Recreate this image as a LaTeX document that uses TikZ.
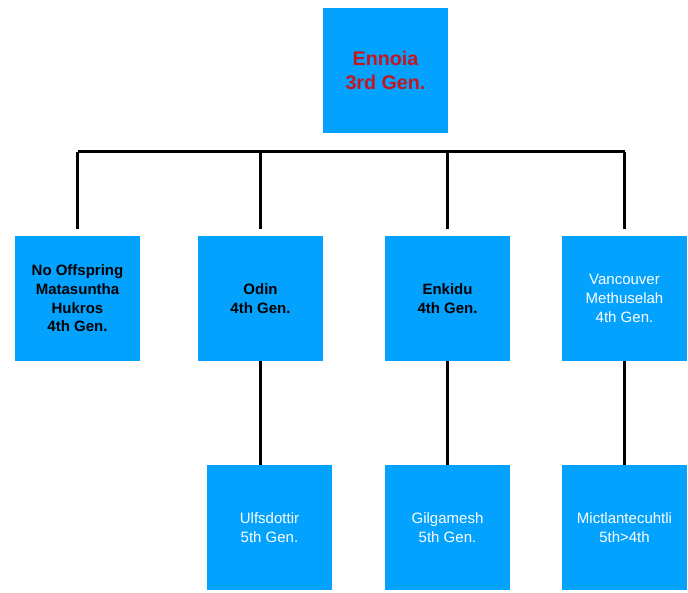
\documentclass[tikz,border=0pt]{standalone}
\usepackage{fontspec}
\setmainfont{Liberation Sans}
\usepackage{tikz}
\usepackage{xcolor}
\definecolor{genblue}{RGB}{4,162,255}
\definecolor{genred}{RGB}{196,22,28}
\tikzstyle{genbox} = [fill=genblue,rectangle,minimum width=125pt,
  minimum height=125pt,inner sep=0pt,align=center]
\tikzstyle{toptext} = [text=genred,font=\fontsize{19.7}{24}\selectfont\bfseries]
\tikzstyle{midtext} = [text=black,font=\fontsize{15}{18.7}\selectfont\bfseries]
\tikzstyle{lowtext} = [text=white,font=\fontsize{15}{18.7}\selectfont]
\tikzstyle{link} = [draw=black,line width=3pt]

\begin{document}
\begin{tikzpicture}[x=1pt,y=-1pt]
    \useasboundingbox (0,0) rectangle (688,593);
    % third generation
    \node [genbox,toptext] (ennoia) at (385.5,70.5) {Ennoia\\3rd Gen.};
    % fourth generation
    \node [genbox,midtext] (nooff) at (77.5,298.5) {%
      No Offspring\\Matasuntha\\Hukros\\4th Gen.};
    \node [genbox,midtext] (odin) at (260.5,298.5) {Odin\\4th Gen.};
    \node [genbox,midtext] (enkidu) at (447.5,298.5) {Enkidu\\4th Gen.};
    \node [genbox,lowtext] (vancouver) at (624.5,298.5) {%
      Vancouver\\Methuselah\\4th Gen.};
    % fifth generation
    \node [genbox,lowtext] (ulfs) at (269.5,527.5) {Ulfsdottir\\5th Gen.};
    \node [genbox,lowtext] (gilgamesh) at (447.5,527.5) {Gilgamesh\\5th Gen.};
    \node [genbox,lowtext] (mictlan) at (624.5,527.5) {Mictlantecuhtli\\5th>4th};
    % connectors
    \coordinate (bus) at (385.5,152);
    \draw [link] (nooff.north |- bus) -- (vancouver.north |- bus);
    \foreach \kid in {nooff,odin,enkidu,vancouver}
      \draw [link,shorten >=7pt] (\kid.north |- bus) -- (\kid.north);
    \draw [link] (odin.south) -- (odin.south |- ulfs.north);
    \draw [link] (enkidu.south) -- (gilgamesh.north);
    \draw [link] (vancouver.south) -- (mictlan.north);
\end{tikzpicture}
\end{document}
